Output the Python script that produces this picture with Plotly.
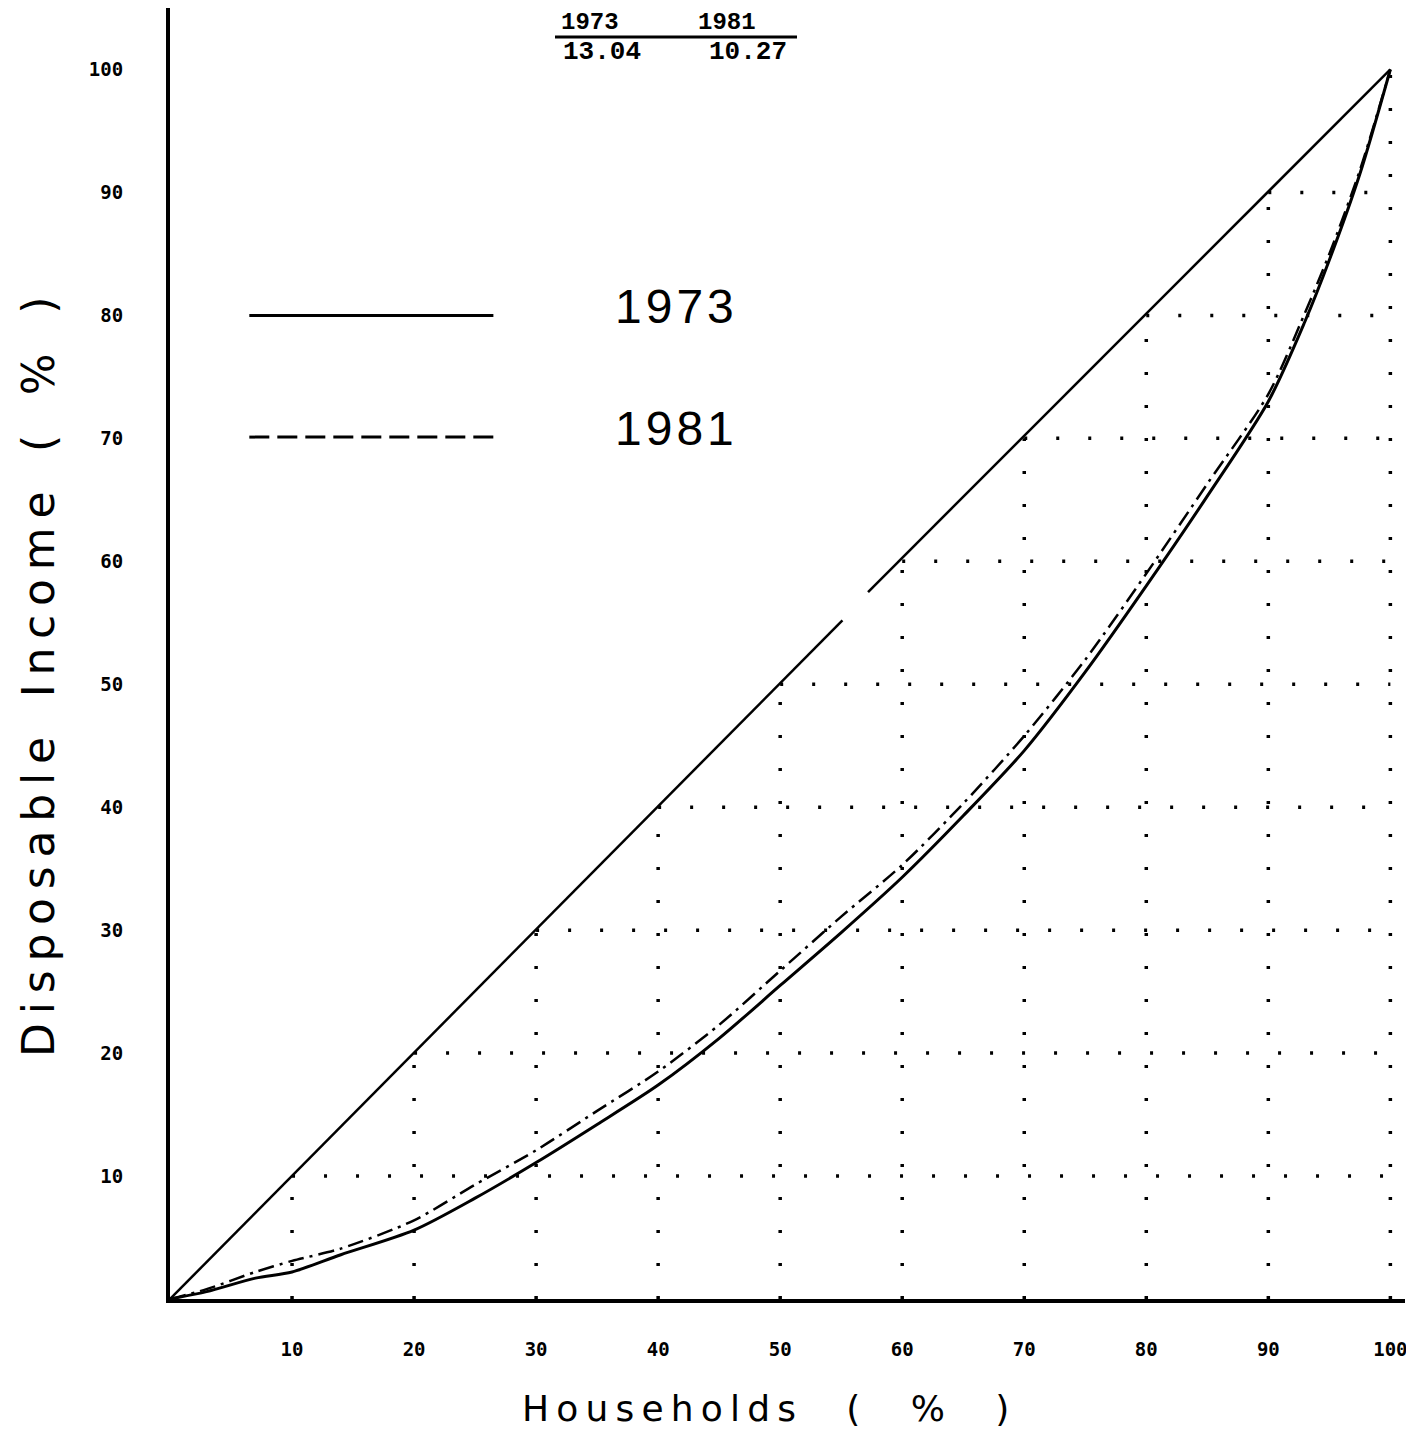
import plotly.graph_objects as go

# ---- data ----
x_1973 = [0, 3, 7, 10, 14, 20, 25, 30, 35, 40, 45, 50, 55, 60, 65, 70, 75, 80, 85, 90, 93, 95, 97.5, 100]
y_1973 = [0, 0.6, 1.7, 2.2, 3.6, 5.6, 8.2, 11.1, 14.2, 17.4, 21.2, 25.5, 29.8, 34.3, 39.3, 44.6,
          51.0, 58.0, 65.3, 73.0, 79.5, 84.5, 91.5, 100]

x_1981 = [0, 3, 7, 10, 14, 20, 25, 30, 35, 40, 45, 50, 55, 60, 65, 70, 75, 80, 85, 90, 93, 95, 97.5, 100]
y_1981 = [0, 0.8, 2.2, 3.1, 4.1, 6.4, 9.3, 12.1, 15.3, 18.5, 22.3, 26.7, 31.1, 35.3, 40.3, 45.8,
          52.0, 59.0, 66.3, 73.6, 80.2, 85.0, 91.8, 100]

# line of equality (with the small break seen in the original plot)
x_equal = [0, 55.1, None, 57.2, 100]
y_equal = [0, 55.2, None, 57.5, 100]

grid_values = [10, 20, 30, 40, 50, 60, 70, 80, 90, 100]
tick_values = [10, 20, 30, 40, 50, 60, 70, 80, 90, 100]
tick_labels = ["10", "20", "30", "40", "50", "60", "70", "80", "90", "100"]

series_names = ["1973", "1981"]
header_years = ["1973", "1981"]
header_values = ["13.04", "10.27"]

x_title = "Households ( % )"
y_title = "Disposable Income ( % )"

# ---- figure ----
fig = go.Figure()

# triangular dotted grid (below the line of equality)
for k in grid_values:
    if k < 100:
        fig.add_trace(go.Scatter(x=[k, 100], y=[k, k], mode="lines",
                                 line=dict(color="black", width=3.5, dash="3px,29px"),
                                 hoverinfo="skip", showlegend=False))
    fig.add_trace(go.Scatter(x=[k, k], y=[0, k], mode="lines",
                             line=dict(color="black", width=3.5, dash="3px,30px"),
                             hoverinfo="skip", showlegend=False))

fig.add_trace(go.Scatter(x=x_equal, y=y_equal, mode="lines",
                         line=dict(color="black", width=2.5),
                         connectgaps=False, showlegend=False))

fig.add_trace(go.Scatter(x=x_1981, y=y_1981, mode="lines", name=series_names[1],
                         line=dict(color="black", width=2.5, dash="16px,6px,3px,6px",
                                   shape="spline", smoothing=0.8),
                         showlegend=False))
fig.add_trace(go.Scatter(x=x_1973, y=y_1973, mode="lines", name=series_names[0],
                         line=dict(color="black", width=3, shape="spline", smoothing=0.8),
                         showlegend=False))

# hand-drawn style legend
fig.add_shape(type="line", x0=6.5, x1=26.5, y0=80, y1=80, xref="x", yref="y",
              line=dict(color="black", width=3))
fig.add_shape(type="line", x0=6.5, x1=26.5, y0=70.1, y1=70.1, xref="x", yref="y",
              line=dict(color="black", width=3, dash="20px,8px"))
for name, yy in zip(series_names, [80.7, 70.8]):
    fig.add_annotation(x=41.3, y=yy, xref="x", yref="y", text="\u200a".join(name),
                       showarrow=False, xanchor="center", yanchor="middle",
                       font=dict(family="Liberation Sans", size=48, color="black"))

# positions in page pixels -> paper fractions (page has an 8px body offset)
FW, FH = 1406, 1423
ML, MR, MT, MB = 162, 9, 0, 132
PW, PH = FW - ML - MR, FH - MT - MB


def px(xp):
    return (xp - 8 - ML) / PW


def py(yp):
    return (FH - MB - (yp - 8)) / PH


# header: years over values
hdr_px = [590, 727]
val_px = [602, 748]
for i in range(2):
    fig.add_annotation(x=px(hdr_px[i]), y=py(22), xref="paper", yref="paper",
                       text=header_years[i], showarrow=False,
                       xanchor="center", yanchor="middle",
                       font=dict(family="Liberation Mono", size=24, color="black", weight="bold"))
    fig.add_annotation(x=px(val_px[i]), y=py(52), xref="paper", yref="paper",
                       text=header_values[i], showarrow=False,
                       xanchor="center", yanchor="middle",
                       font=dict(family="Liberation Mono", size=26, color="black", weight="bold"))
fig.add_shape(type="line", x0=px(555), x1=px(797), y0=py(37), y1=py(37),
              xref="paper", yref="paper", line=dict(color="black", width=3))


def spaced(s, gap="\u2009", word_gap="\u2003"):
    out = []
    for ch in s:
        out.append(word_gap if ch == " " else ch)
    return gap.join(out)


fig.add_annotation(x=px(765), y=py(1409), xref="paper", yref="paper",
                   text=spaced(x_title, word_gap="\u2003"),
                   showarrow=False, xanchor="center", yanchor="middle",
                   font=dict(family="DejaVu Sans", size=36, color="black"))
fig.add_annotation(x=px(38), y=py(677), xref="paper", yref="paper",
                   text=spaced(y_title, word_gap="\u2002"),
                   textangle=-90, showarrow=False, xanchor="center", yanchor="middle",
                   font=dict(family="DejaVu Sans", size=44, color="black"))

fig.update_layout(
    width=FW, height=FH,
    margin=dict(l=ML, r=MR, t=MT, b=MB),
    paper_bgcolor="white", plot_bgcolor="white",
    showlegend=False,
)
fig.update_xaxes(range=[0, 101.2], showgrid=False, zeroline=False,
                 showline=True, linecolor="black", linewidth=4, mirror=False,
                 tickmode="array", tickvals=tick_values, ticktext=tick_labels,
                 ticks="outside", ticklen=30, tickcolor="rgba(0,0,0,0)",
                 tickfont=dict(family="DejaVu Sans Mono", size=19, color="black", weight="bold"))
fig.update_yaxes(range=[0, 105.0], showgrid=False, zeroline=False,
                 showline=True, linecolor="black", linewidth=4, mirror=False,
                 tickmode="array", tickvals=tick_values, ticktext=tick_labels,
                 ticks="outside", ticklen=39, tickcolor="rgba(0,0,0,0)",
                 tickfont=dict(family="DejaVu Sans Mono", size=19, color="black", weight="bold"))

fig.write_html("out.html")
